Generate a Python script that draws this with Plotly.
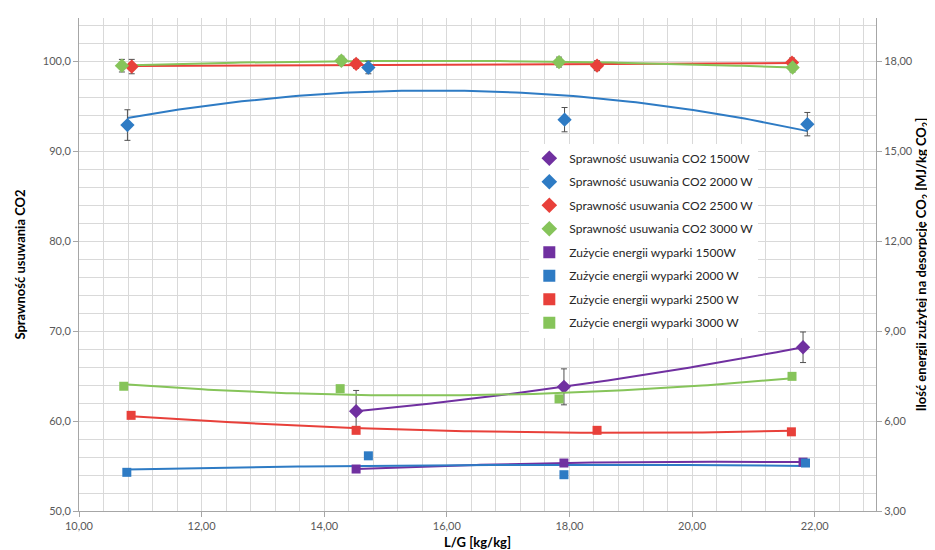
import numpy as np
import plotly.graph_objects as go

# ---- data ----
lg_eff_1500 = [14.52, 17.91, 21.81]
eff_1500 = [61.1, 63.8, 68.2]
err_eff_1500 = [2.3, 2.0, 1.7]

lg_eff_2000 = [10.79, 14.72, 17.92, 21.88]
eff_2000 = [92.9, 99.3, 93.5, 93.0]
err_eff_2000 = [1.7, 0.7, 1.35, 1.3]

lg_eff_2500 = [10.86, 14.52, 18.45, 21.63]
eff_2500 = [99.4, 99.7, 99.5, 99.85]
err_eff_2500 = [0.8, 0.5, 0.55, 0.5]

lg_eff_3000 = [10.70, 14.28, 17.83, 21.64]
eff_3000 = [99.5, 100.05, 99.9, 99.3]
err_eff_3000 = [0.7, 0.5, 0.55, 0.5]

lg_en_1500 = [14.52, 17.91, 21.81]
en_1500 = [4.40, 4.60, 4.63]

lg_en_2000 = [10.78, 14.72, 17.91, 21.85]
en_2000 = [4.29, 4.84, 4.21, 4.60]

lg_en_2500 = [10.85, 14.52, 18.45, 21.62]
en_2500 = [6.19, 5.69, 5.69, 5.64]

lg_en_3000 = [10.73, 14.26, 17.83, 21.63]
en_3000 = [7.16, 7.08, 6.74, 7.49]

names_eff = ["Sprawność usuwania CO2 1500W", "Sprawność usuwania CO2 2000 W",
             "Sprawność usuwania CO2 2500 W", "Sprawność usuwania CO2 3000 W"]
names_en = ["Zużycie energii wyparki 1500W", "Zużycie energii wyparki 2000 W",
            "Zużycie energii wyparki 2500 W", "Zużycie energii wyparki 3000 W"]

colors = ["#7030A0", "#2E7BC4", "#E8403A", "#86C45A"]

FONT = "Lato"
fig = go.Figure()

eff_sets = [(lg_eff_1500, eff_1500, err_eff_1500), (lg_eff_2000, eff_2000, err_eff_2000),
            (lg_eff_2500, eff_2500, err_eff_2500), (lg_eff_3000, eff_3000, err_eff_3000)]
en_sets = [(lg_en_1500, en_1500), (lg_en_2000, en_2000),
           (lg_en_2500, en_2500), (lg_en_3000, en_3000)]


def trend(x, y):
    c = np.polyfit(x, y, 2)
    xs = np.linspace(min(x), max(x), 120)
    return xs, np.polyval(c, xs)

# trend lines first (drawn under markers)
for (x, y, e), col in zip(eff_sets, colors):
    xs, ys = trend(x, y)
    fig.add_trace(go.Scatter(x=xs, y=ys, mode="lines", line=dict(color=col, width=2),
                             showlegend=False, hoverinfo="skip", yaxis="y"))
for (x, y), col in zip(en_sets, colors):
    xs, ys = trend(x, y)
    fig.add_trace(go.Scatter(x=xs, y=ys, mode="lines", line=dict(color=col, width=2),
                             showlegend=False, hoverinfo="skip", yaxis="y2"))

for i, ((x, y, e), col) in enumerate(zip(eff_sets, colors)):
    fig.add_trace(go.Scatter(x=x, y=y, mode="markers", name=names_eff[i],
                             legendgroup="e%d" % i,
                             marker=dict(symbol="diamond", size=11, color=col),
                             error_y=dict(type="data", array=e, color="#505050",
                                          thickness=1, width=3),
                             yaxis="y"))
for i, ((x, y), col) in enumerate(zip(en_sets, colors)):
    fig.add_trace(go.Scatter(x=x, y=y, mode="markers", name=names_en[i],
                             legendgroup="n%d" % i,
                             marker=dict(symbol="square", size=9, color=col),
                             yaxis="y2"))

grid = "#D9D9D9"
tickfont = dict(family=FONT, size=11, color="#595959")
titlefont = dict(family=FONT, size=13, color="#000000")

fig.update_layout(
    width=935, height=550,
    margin=dict(l=71, r=67, t=10, b=47),
    paper_bgcolor="white", plot_bgcolor="white",
    separators=", ",
    font=dict(family=FONT),
    xaxis=dict(range=[10, 23], dtick=2, tick0=10, tickformat=".2f",
               showgrid=True, gridcolor=grid, gridwidth=1,
               minor=dict(dtick=0.4, showgrid=True, gridcolor=grid, ticks=""),
               showline=True, linecolor="#A6A6A6", ticks="outside", ticklen=5,
               tickcolor="#A6A6A6", tickfont=tickfont, zeroline=False,
               title=dict(text="<b>L/G [kg/kg]</b>", font=titlefont, standoff=6)),
    yaxis=dict(range=[50, 104.8], dtick=10, tick0=50, tickformat=".1f",
               showgrid=True, gridcolor=grid,
               minor=dict(dtick=2, showgrid=True, gridcolor=grid, ticks=""),
               showline=True, linecolor="#A6A6A6", ticks="outside", ticklen=5,
               tickcolor="#A6A6A6", tickfont=tickfont, zeroline=False,
               title=dict(text="<b>Sprawność usuwania CO2</b>", font=titlefont, standoff=14)),
    yaxis2=dict(range=[3, 19.44], dtick=3, tick0=3, tickformat=".2f",
                overlaying="y", side="right", showgrid=False,
                showline=True, linecolor="#A6A6A6", ticks="outside", ticklen=5,
                tickcolor="#A6A6A6", tickfont=tickfont, zeroline=False,
                title=dict(text="<b>Ilość energii zużytej na desorpcję CO<sub>2</sub> [MJ/kg CO<sub>2</sub>]</b>",
                           font=dict(family=FONT, size=13, color="#000000"), standoff=5)),
    legend=dict(x=0.565, y=0.745, xanchor="left", yanchor="top",
                bgcolor="white", borderwidth=0, traceorder="grouped",
                tracegroupgap=4.5, itemwidth=30, itemsizing="constant",
                font=dict(family=FONT, size=12, color="#262626")),
)

fig.write_html("out.html")
